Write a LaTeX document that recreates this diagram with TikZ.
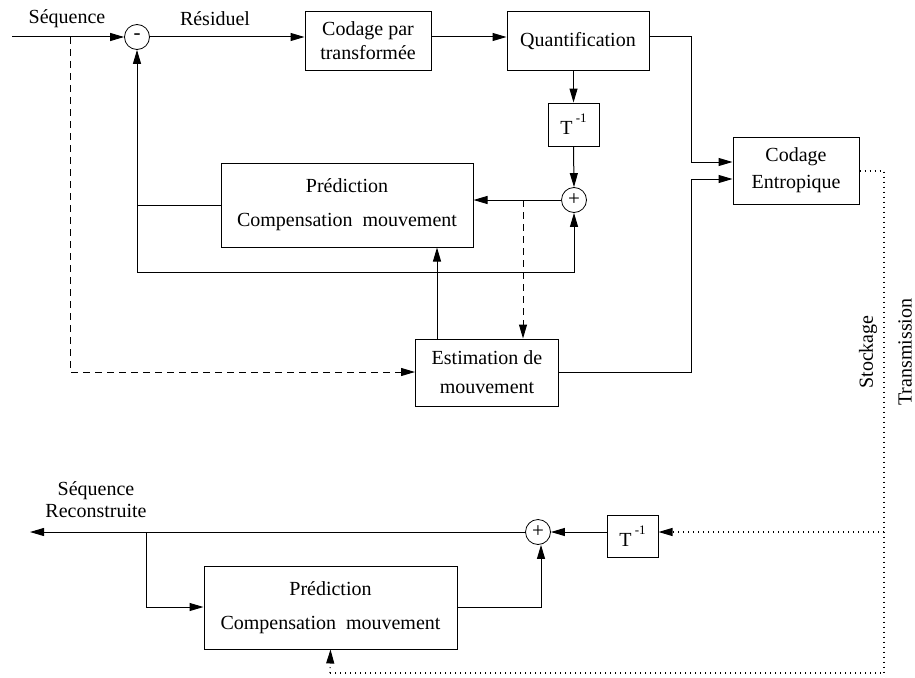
\documentclass[tikz,border=0pt]{standalone}
\usepackage{fontspec}
\setmainfont{Liberation Serif}
\usetikzlibrary{arrows.meta}
\begin{document}
\begin{tikzpicture}[x=1pt,y=-1pt,
  every node/.style={font=\fontsize{20}{24}\selectfont},
  blk/.style={draw,line width=1pt,inner sep=0pt,align=center},
  sumc/.style={draw,circle,line width=0.8pt,inner sep=0pt,minimum size=25pt,font=\fontsize{21}{21}\selectfont},
  ln/.style={line width=1pt},
  ar/.style={line width=1pt,-{Triangle[length=14pt,width=8pt]}},
  dsh/.style={dash pattern=on 7pt off 5pt},
  dts/.style={line width=1.1pt,dash pattern=on 1pt off 4pt},
  lbl/.style={inner sep=0pt}]
\useasboundingbox (0,0) rectangle (915,677);
\fill[white] (0,0) rectangle (915,677);
% nodes
\node[sumc] (minus) at (137,37) {\raisebox{0.5pt}{-}};
\node[blk,minimum width=126pt,minimum height=58pt] (codt) at (368,41) {Codage par\\transformée};
\node[blk,minimum width=142pt,minimum height=58pt] (quant) at (578,41) {Quantification};
\node[blk,minimum width=51pt,minimum height=43pt] (tinv1) at (573.5,124.5) {T\,\raisebox{1.3ex}{\fontsize{13}{13}\selectfont -1}};
\node[sumc] (plus1) at (574,200) {+};
\node[blk,minimum width=252pt,minimum height=84pt,font=\fontsize{20}{34}\selectfont] (pred1) at (347,205) {Prédiction\\Compensation\ \ mouvement};
\node[blk,minimum width=143pt,minimum height=67pt,font=\fontsize{20}{29}\selectfont] (est) at (487,372.5) {Estimation de\\mouvement};
\node[blk,minimum width=126pt,minimum height=67pt,font=\fontsize{20}{27}\selectfont] (ent) at (796,170.5) {Codage\\Entropique};
\node[sumc] (plus2) at (538,532) {+};
\node[blk,minimum width=51pt,minimum height=42pt] (tinv2) at (632.5,536) {T\,\raisebox{1.3ex}{\fontsize{13}{13}\selectfont -1}};
\node[blk,minimum width=253pt,minimum height=83pt,font=\fontsize{20}{34}\selectfont] (pred2) at (330.5,607.5) {Prédiction\\Compensation\ \ mouvement};
% labels
\node[lbl] (lseq) at (67,19) {Séquence};
\node[lbl] (lres) at (215,19) {Résiduel};
\node[lbl,align=center,font=\fontsize{20}{22}\selectfont] (lrec) at (96,500) {Séquence\\Reconstruite};
\node[lbl,rotate=90] (lsto) at (868,352) {Stockage};
\node[lbl,rotate=90] (ltra) at (905,352) {Transmission};
% coordinates
\coordinate (in) at (12,37);
\coordinate (qr) at (691,37);
\coordinate (j1) at (523,200);
\coordinate (fb) at (137,272);
\coordinate (ds) at (70,37);
\coordinate (ds2) at (70,372);
\coordinate (er) at (691,372);
\coordinate (dt1) at (884,171);
\coordinate (dt2) at (884,532);
\coordinate (dt3) at (884,673);
\coordinate (dt4) at (330,673);
\coordinate (out) at (30,532);
\coordinate (br) at (146,532);
\coordinate (br2) at (146,607);
\coordinate (pr) at (541,607);
% connectors top
\draw[ar] (in) -- (minus.west);
\draw[ar] (minus.east) -- (minus.east -| codt.west);
\draw[ar] (minus.east -| codt.east) -- (minus.east -| quant.west);
\draw[ar] (minus.east -| quant.east) -- (qr) -- (691,162) -- (ent.west |- 0,162);
\draw[ar] (tinv1.north |- quant.south) -- (tinv1.north);
\draw[ar] (tinv1.south) -- (plus1.north);
\draw[ar] (plus1.west) -- (plus1.west -| pred1.east);
\draw[ar,dsh] (j1) -- (j1 |- est.north);
\draw[ar] (fb) -- (minus.south);
\draw[ln] (pred1.west) -- (pred1.west -| fb);
\draw[ar] (fb) -- (fb -| plus1) -- (plus1.south);
\draw[ar] (est.north -| 437,0) -- (pred1.south -| 437,0);
\draw[ar,dsh] (ds) -- (ds2) -- (est.west |- ds2);
\draw[ar] (est.east |- er) -- (er) -- (691,179) -- (ent.west |- 0,179);
% storage / transmission
\draw[dts] (ent.east |- dt1) -- (dt1) -- (dt3) -- (dt4);
\draw[ar,dts] (dt4) -- (pred2.south);
\draw[ar,dts] (dt2) -- (tinv2.east |- dt2);
% bottom
\draw[ar] (tinv2.west |- plus2) -- (plus2.east);
\draw[ar] (plus2.west) -- (out);
\draw[ar] (br) -- (br2) -- (pred2.west |- br2);
\draw[ar] (pred2.east |- pr) -- (pr) -- (pr |- plus2.south);
\end{tikzpicture}
\end{document}
